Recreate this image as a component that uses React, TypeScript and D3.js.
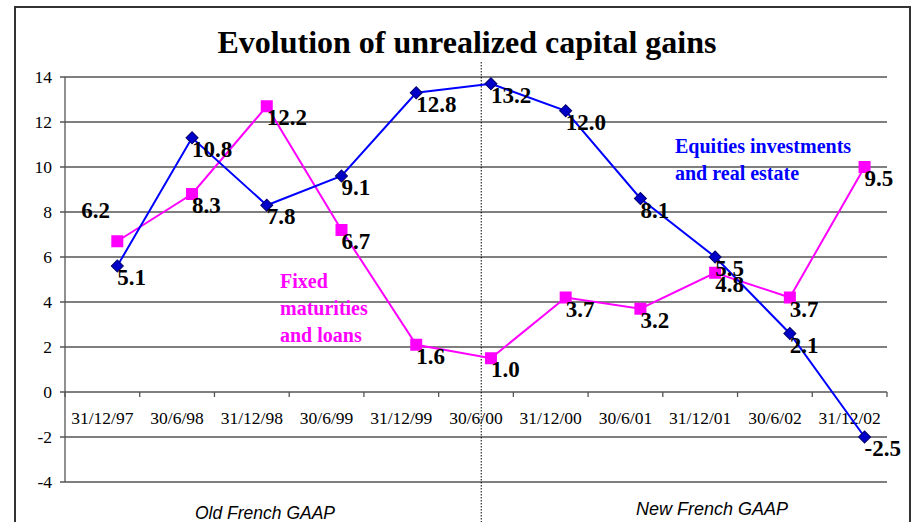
import { useEffect, useRef } from "react"
import * as d3 from "d3"

// categories on the x axis
const dates = [
  "31/12/97",
  "30/6/98",
  "31/12/98",
  "30/6/99",
  "31/12/99",
  "30/6/00",
  "31/12/00",
  "30/6/01",
  "31/12/01",
  "30/6/02",
  "31/12/02",
]

// plotted positions (as drawn in the original) and the printed data labels
const equitiesValues = [5.6, 11.3, 8.3, 9.6, 13.3, 13.7, 12.5, 8.6, 6.0, 2.6, -2.0]
const equitiesLabels = ["5.1", "10.8", "7.8", "9.1", "12.8", "13.2", "12.0", "8.1", "5.5", "2.1", "-2.5"]
const fixedValues = [6.7, 8.8, 12.7, 7.2, 2.1, 1.5, 4.2, 3.7, 5.3, 4.2, 10.0]
const fixedLabels = ["6.2", "8.3", "12.2", "6.7", "1.6", "1.0", "3.7", "3.2", "4.8", "3.7", "9.5"]

const yTicks = [-4, -2, 0, 2, 4, 6, 8, 10, 12, 14]

const BLUE = "#0000ff"
const MAGENTA = "#ff00ff"
const SERIF = "'Liberation Serif', 'Times New Roman', serif"
const SANS = "'Liberation Sans', Arial, sans-serif"

export default function App() {
  const svgRef = useRef<SVGSVGElement | null>(null)

  useEffect(() => {
    if (!svgRef.current) return
    const svg = d3.select(svgRef.current)
    svg.selectAll("*").remove()

    const W = 914
    const H = 522
    const plot = { left: 65, right: 887, top: 77, bottom: 482 }

    svg.append("rect").attr("width", W).attr("height", H).attr("fill", "#fff")

    // outer frame
    svg
      .append("rect")
      .attr("x", 15)
      .attr("y", 7)
      .attr("width", 895)
      .attr("height", 530)
      .attr("fill", "none")
      .attr("stroke", "#333")
      .attr("stroke-width", 2)

    // title
    svg
      .append("text")
      .attr("x", 467)
      .attr("y", 53)
      .attr("text-anchor", "middle")
      .style("font-family", SERIF)
      .style("font-weight", "bold")
      .style("font-size", "32px")
      .text("Evolution of unrealized capital gains")

    const x = d3.scaleBand<string>().domain(dates).range([plot.left, plot.right]).padding(0)
    const y = d3.scaleLinear().domain([-4, 14]).range([plot.bottom, plot.top])
    const bw = x.bandwidth()
    const px = (i: number) => (x(dates[i]) ?? 0) + bw * 0.7

    // gridlines
    svg
      .append("g")
      .selectAll("line")
      .data(yTicks)
      .enter()
      .append("line")
      .attr("x1", plot.left - 5)
      .attr("x2", plot.right)
      .attr("y1", (d) => y(d))
      .attr("y2", (d) => y(d))
      .attr("stroke", "#555")
      .attr("stroke-width", 1.3)

    // y axis line
    svg
      .append("line")
      .attr("x1", plot.left)
      .attr("x2", plot.left)
      .attr("y1", plot.top)
      .attr("y2", plot.bottom)
      .attr("stroke", "#555")
      .attr("stroke-width", 1.3)

    // y tick labels
    svg
      .append("g")
      .selectAll("text")
      .data(yTicks)
      .enter()
      .append("text")
      .attr("x", 52)
      .attr("y", (d) => y(d) + 6)
      .attr("text-anchor", "end")
      .style("font-family", SERIF)
      .style("font-size", "17.5px")
      .text((d) => d)

    // x tick marks on the zero line
    const boundaries = [...dates.map((d) => x(d) ?? 0), plot.right]
    svg
      .append("g")
      .selectAll("line")
      .data(boundaries)
      .enter()
      .append("line")
      .attr("x1", (d) => d)
      .attr("x2", (d) => d)
      .attr("y1", y(0))
      .attr("y2", y(0) + 5)
      .attr("stroke", "#555")
      .attr("stroke-width", 1.3)

    // x tick labels
    svg
      .append("g")
      .selectAll("text")
      .data(dates)
      .enter()
      .append("text")
      .attr("x", (d) => (x(d) ?? 0) + bw / 2)
      .attr("y", 424)
      .attr("text-anchor", "middle")
      .style("font-family", SERIF)
      .style("font-size", "17.5px")
      .text((d) => d)

    // dotted separator between old and new GAAP
    svg
      .append("line")
      .attr("x1", (x("30/6/00") ?? 0) + bw * 0.57)
      .attr("x2", (x("30/6/00") ?? 0) + bw * 0.57)
      .attr("y1", 62)
      .attr("y2", H)
      .attr("stroke", "#000")
      .attr("stroke-width", 1)
      .attr("stroke-dasharray", "1.5,1.5")

    const line = d3
      .line<number>()
      .x((_, i) => px(i))
      .y((d) => y(d))

    // fixed maturities series
    svg
      .append("path")
      .datum(fixedValues)
      .attr("d", line)
      .attr("fill", "none")
      .attr("stroke", MAGENTA)
      .attr("stroke-width", 2)

    // equities series
    svg
      .append("path")
      .datum(equitiesValues)
      .attr("d", line)
      .attr("fill", "none")
      .attr("stroke", BLUE)
      .attr("stroke-width", 2)

    svg
      .append("g")
      .selectAll("rect")
      .data(fixedValues)
      .enter()
      .append("rect")
      .attr("x", (_, i) => px(i) - 6)
      .attr("y", (d) => y(d) - 6)
      .attr("width", 12)
      .attr("height", 12)
      .attr("fill", MAGENTA)

    svg
      .append("g")
      .selectAll("path")
      .data(equitiesValues)
      .enter()
      .append("path")
      .attr("d", d3.symbol().type(d3.symbolSquare).size(72)())
      .attr("transform", (d, i) => `translate(${px(i)},${y(d)}) rotate(45)`)
      .attr("fill", "#0000c8")
      .attr("stroke", "#000070")
      .attr("stroke-width", 1)

    // data labels
    const labelStyle = (sel: d3.Selection<SVGTextElement, any, any, any>) =>
      sel.style("font-family", SERIF).style("font-weight", "bold").style("font-size", "23px").attr("fill", "#000")

    svg
      .append("g")
      .selectAll("text")
      .data(fixedLabels)
      .enter()
      .append("text")
      .attr("x", (_, i) => px(i) + (i === 0 ? -36 : 0))
      .attr("y", (_, i) => y(fixedValues[i]) + (i === 0 ? -23 : 19))
      .call(labelStyle)
      .text((d) => d)

    svg
      .append("g")
      .selectAll("text")
      .data(equitiesLabels)
      .enter()
      .append("text")
      .attr("x", (_, i) => px(i))
      .attr("y", (_, i) => y(equitiesValues[i]) + 19)
      .call(labelStyle)
      .text((d) => d)

    // series names
    const names = [
      { lines: ["Equities investments", "and real estate"], x: 675, y: 153, color: BLUE },
      { lines: ["Fixed", "maturities", "and loans"], x: 280, y: 288, color: MAGENTA },
    ]
    names.forEach((n) => {
      const t = svg
        .append("text")
        .attr("x", n.x)
        .attr("y", n.y)
        .attr("fill", n.color)
        .style("font-family", SERIF)
        .style("font-weight", "bold")
        .style("font-size", "20px")
      n.lines.forEach((l, i) => {
        t.append("tspan").attr("x", n.x).attr("dy", i === 0 ? 0 : 27).text(l)
      })
    })

    // GAAP captions
    svg
      .append("text")
      .attr("x", 265)
      .attr("y", 519)
      .attr("text-anchor", "middle")
      .style("font-family", SANS)
      .style("font-style", "italic")
      .style("font-size", "17.5px")
      .text("Old French GAAP")

    svg
      .append("text")
      .attr("x", 712)
      .attr("y", 515)
      .attr("text-anchor", "middle")
      .style("font-family", SANS)
      .style("font-style", "italic")
      .style("font-size", "18px")
      .text("New French GAAP")
  }, [])

  return (
    <svg
      ref={svgRef}
      width={914}
      height={522}
      style={{ position: "absolute", left: 0, top: 0, display: "block" }}
    ></svg>
  )
}
